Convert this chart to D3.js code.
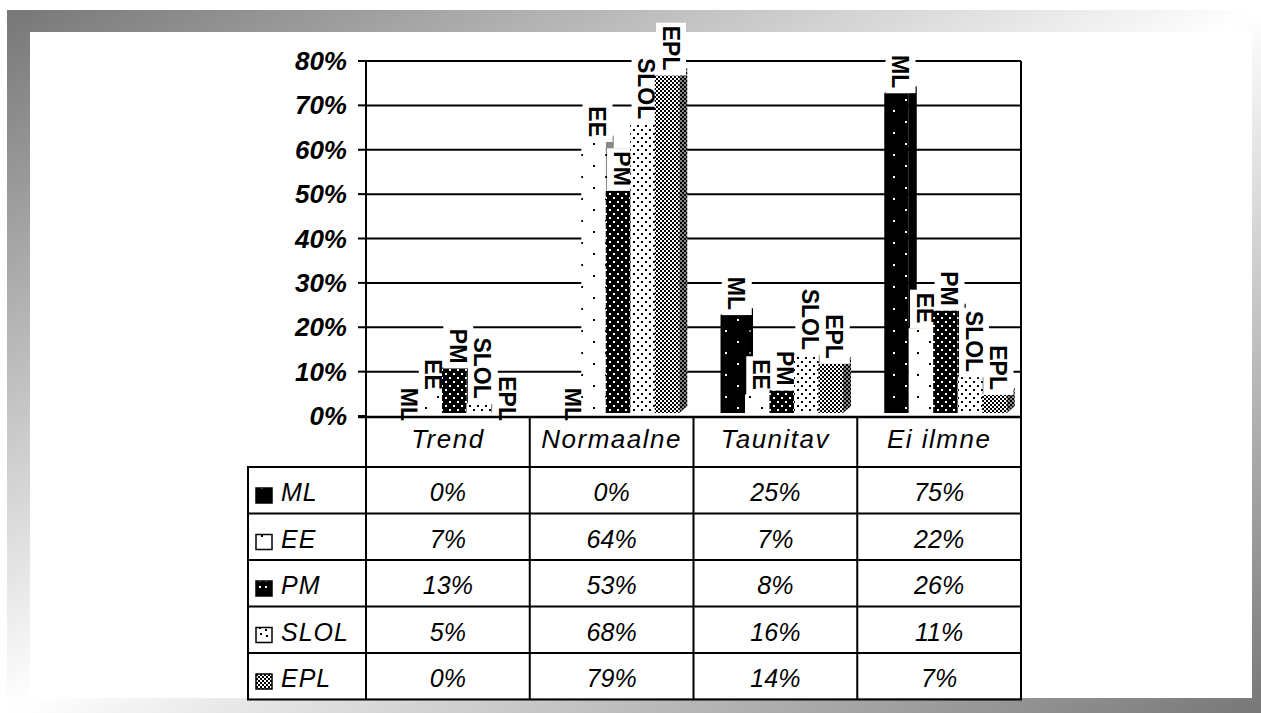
<!DOCTYPE html>
<html>
<head>
<meta charset="utf-8">
<script src="https://cdn.jsdelivr.net/npm/d3@7"></script>
<style>
  html, body { margin: 0; padding: 0; background: #ffffff; }
  svg { display: block; }
  text { font-family: "Liberation Sans", Arial, sans-serif; }
</style>
</head>
<body>
<svg id="chart" width="1261" height="713"></svg>
<script>
// ---------- data ----------
const categories = ["Trend", "Normaalne", "Taunitav", "Ei ilmne"];
const seriesNames = ["ML", "EE", "PM", "SLOL", "EPL"];
const valuesML   = [0, 0, 25, 75];
const valuesEE   = [7, 64, 7, 22];
const valuesPM   = [13, 53, 8, 26];
const valuesSLOL = [5, 68, 16, 11];
const valuesEPL  = [0, 79, 14, 7];
const yTickValues = [0, 10, 20, 30, 40, 50, 60, 70, 80];
const yTickLabels = ["0%", "10%", "20%", "30%", "40%", "50%", "60%", "70%", "80%"];

const seriesValues = [valuesML, valuesEE, valuesPM, valuesSLOL, valuesEPL];

// ---------- layout ----------
const W = 1261, H = 713;
const svg = d3.select("#chart");
const defs = svg.append("defs");

// frame gradient
const grad = defs.append("linearGradient").attr("id", "frameGrad")
  .attr("x1", 0).attr("y1", 0).attr("x2", 1).attr("y2", 1);
grad.append("stop").attr("offset", 0).attr("stop-color", "#777777");
grad.append("stop").attr("offset", 0.5).attr("stop-color", "#ffffff");
grad.append("stop").attr("offset", 1).attr("stop-color", "#777777");

svg.append("rect").attr("x", 7).attr("y", 10).attr("width", W - 7).attr("height", H - 10)
  .attr("fill", "url(#frameGrad)");
svg.append("rect").attr("x", 30).attr("y", 32).attr("width", 1222).attr("height", 666)
  .attr("fill", "#ffffff");

// ---------- patterns ----------
function makePattern(id, w, h, bg, fg, dots, ds) {
  const p = defs.append("pattern").attr("id", id).attr("patternUnits", "userSpaceOnUse")
    .attr("width", w).attr("height", h);
  p.append("rect").attr("width", w).attr("height", h).attr("fill", bg);
  dots.forEach(d => p.append("rect").attr("x", d[0]).attr("y", d[1])
    .attr("width", ds).attr("height", ds).attr("fill", fg));
}
// front patterns
makePattern("p-ML", 24, 22, "#000", "#fff", [[5, 0], [17, 11]], 2);
makePattern("p-EE", 24, 22, "#fff", "#000", [[5, 0], [17, 11]], 2);
makePattern("p-PM", 8, 8, "#000", "#fff", [[1, 1], [5, 5]], 2);
makePattern("p-SLOL", 8, 8, "#fff", "#000", [[1, 1], [5, 5]], 2);
makePattern("p-EPL", 4, 4, "#000", "#fff", [[0, 0], [2, 2]], 2);
// side patterns (darker)
makePattern("s-ML", 24, 22, "#000", "#888", [[5, 0], [17, 11]], 2);
makePattern("s-EE", 24, 22, "#888", "#000", [[5, 0], [17, 11]], 2);
makePattern("s-PM", 8, 8, "#000", "#888", [[1, 1], [5, 5]], 2);
makePattern("s-SLOL", 8, 8, "#888", "#000", [[1, 1], [5, 5]], 2);
makePattern("s-EPL", 4, 4, "#000", "#888", [[0, 0], [2, 2]], 2);
// legend swatch patterns
makePattern("l-ML", 16, 16, "#000", "#fff", [[5, 7]], 2);
makePattern("l-EE", 16, 16, "#fff", "#000", [[5, 7]], 2);
makePattern("l-PM", 16, 16, "#000", "#fff", [[3, 4], [9, 4], [3, 10], [9, 10]], 2);
makePattern("l-SLOL", 16, 16, "#fff", "#000", [[3, 3], [9, 5], [4, 9], [10, 11]], 2);
makePattern("l-EPL", 4, 4, "#000", "#fff", [[0, 0], [2, 2]], 2);

// ---------- scales ----------
const plotL = 366, plotR = 1021, plotT = 61, plotB = 416;
const x = d3.scaleBand().domain(categories).range([plotL, plotR]).padding(0);
const xs = d3.scaleBand().domain(seriesNames).range([0, x.bandwidth()])
  .paddingInner(0).paddingOuter(0.842).align(0.655);
const y = d3.scaleLinear().domain([0, 80]).range([plotB, plotT]);

const depthX = 8, depthY = 7, frontShift = 10, floorY = plotB - 3;

// ---------- gridlines ----------
const g = svg.append("g");
g.selectAll("line.grid").data(yTickValues.filter(v => v > 0)).join("line")
  .attr("x1", plotL).attr("x2", plotR)
  .attr("y1", d => y(d)).attr("y2", d => y(d))
  .attr("stroke", "#000").attr("stroke-width", 2);
g.append("line").attr("x1", plotR).attr("x2", plotR).attr("y1", plotT).attr("y2", plotB)
  .attr("stroke", "#000").attr("stroke-width", 2);

// ---------- bars with their labels (drawn series by series) ----------
const barsG = svg.append("g");
const labFont = 23, boxW = 30;
categories.forEach((cat, ci) => {
  seriesNames.forEach((s, si) => {
    const v = seriesValues[si][ci];
    const x0 = x(cat) + xs(s), x1 = x0 + xs.bandwidth();
    const top = y(v) + frontShift;
    if (top < floorY) {
      barsG.append("path")
        .attr("d", `M${x1},${top}L${x1 + depthX},${top - depthY}L${x1 + depthX},${floorY - depthY}L${x1},${floorY}Z`)
        .attr("fill", `url(#s-${s})`);
      barsG.append("path")
        .attr("d", `M${x0},${top}L${x0 + depthX},${top - depthY}L${x1 + depthX},${top - depthY}L${x1},${top}Z`)
        .attr("fill", `url(#p-${s})`);
      barsG.append("rect").attr("x", x0).attr("y", top)
        .attr("width", xs.bandwidth()).attr("height", floorY - top)
        .attr("fill", `url(#p-${s})`);
    }
    // label
    const cx = x0 + xs.bandwidth() / 2 + depthX / 2;
    const endY = top - 5;
    const grp = barsG.append("g");
    const t = grp.append("text")
      .attr("transform", `translate(${cx - 8.5},${endY}) rotate(90)`)
      .attr("text-anchor", "end")
      .attr("font-size", labFont).attr("font-weight", "bold")
      .attr("fill", "#000").text(s);
    const len = t.node().getComputedTextLength();
    const by = endY - len - 3;
    grp.insert("rect", "text")
      .attr("x", cx - boxW / 2).attr("y", by)
      .attr("width", boxW).attr("height", Math.max(0, Math.min(top, floorY) - by))
      .attr("fill", "#fff");
  });
});

// ---------- axis ticks and labels ----------
const axG = svg.append("g");
axG.append("line").attr("x1", plotL).attr("x2", plotL).attr("y1", plotT).attr("y2", plotB)
  .attr("stroke", "#000").attr("stroke-width", 2);
axG.selectAll("line.tick").data(yTickValues).join("line")
  .attr("x1", plotL - 8).attr("x2", plotL)
  .attr("y1", d => y(d)).attr("y2", d => y(d))
  .attr("stroke", "#000").attr("stroke-width", 2);
axG.selectAll("text.ytl").data(yTickValues).join("text")
  .attr("x", 347).attr("y", d => y(d) + 9)
  .attr("text-anchor", "end").attr("font-size", 26)
  .attr("font-weight", "bold").attr("font-style", "italic")
  .text((d, i) => yTickLabels[i]);
// baseline
axG.append("line").attr("x1", plotL - 8).attr("x2", plotR + 1).attr("y1", plotB + 1).attr("y2", plotB + 1)
  .attr("stroke", "#000").attr("stroke-width", 2.5);

// ---------- data table ----------
const tabG = svg.append("g");
const tabL = 248, headTop = plotB + 1, rowTop = 467, rowH = 46.5;
const nRows = seriesNames.length;
const tabB = rowTop + nRows * rowH;
categories.concat(["_end"]).forEach((c, i) => {
  const xx = i < categories.length ? x(c) : plotR;
  tabG.append("line").attr("x1", xx).attr("x2", xx).attr("y1", headTop).attr("y2", tabB)
    .attr("stroke", "#000").attr("stroke-width", 2);
});
tabG.append("line").attr("x1", tabL).attr("x2", tabL).attr("y1", rowTop).attr("y2", tabB)
  .attr("stroke", "#000").attr("stroke-width", 2);
d3.range(nRows + 1).forEach(r => {
  tabG.append("line").attr("x1", tabL - 1).attr("x2", plotR + 1)
    .attr("y1", rowTop + r * rowH).attr("y2", rowTop + r * rowH)
    .attr("stroke", "#000").attr("stroke-width", 2);
});
categories.forEach(c => {
  tabG.append("text").attr("x", x(c) + x.bandwidth() / 2).attr("y", headTop + 31)
    .attr("text-anchor", "middle").attr("font-size", 26).attr("font-style", "italic")
    .attr("letter-spacing", 1.5)
    .text(c);
});
seriesNames.forEach((s, si) => {
  const ry = rowTop + si * rowH;
  tabG.append("rect").attr("x", 256).attr("y", ry + 21).attr("width", 16).attr("height", 15)
    .attr("fill", `url(#l-${s})`).attr("stroke", "#000").attr("stroke-width", 1.5);
  tabG.append("text").attr("x", 281).attr("y", ry + 34)
    .attr("font-size", 25).attr("font-style", "italic").attr("letter-spacing", 1).text(s);
  categories.forEach((c, ci) => {
    tabG.append("text").attr("x", x(c) + x.bandwidth() / 2).attr("y", ry + 34)
      .attr("text-anchor", "middle").attr("font-size", 25).attr("font-style", "italic")
      .text(seriesValues[si][ci] + "%");
  });
});
</script>
</body>
</html>
